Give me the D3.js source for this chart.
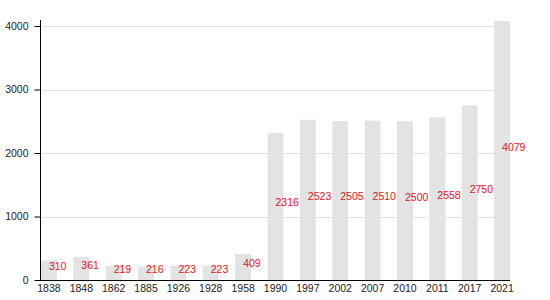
<!DOCTYPE html>
<html>
<head>
<meta charset="utf-8">
<script src="https://cdn.jsdelivr.net/npm/d3@7"></script>
<style>
  body { margin: 0; background: #fff; }
  svg { display: block; font-family: "Liberation Sans", Arial, sans-serif; }
</style>
</head>
<body>
<div id="chart"></div>
<script>
const years = ["1838", "1848", "1862", "1885", "1926", "1928", "1958", "1990", "1997", "2002", "2007", "2010", "2011", "2017", "2021"];
const population = [310, 361, 219, 216, 223, 223, 409, 2316, 2523, 2505, 2510, 2500, 2558, 2750, 4079];
const yTicks = [0, 1000, 2000, 3000, 4000];

const width = 550, height = 300;
const left = 41, right = 510, baseY = 280, topY = 21;

const svg = d3.select("#chart").append("svg")
  .attr("width", width)
  .attr("height", height);

const x = d3.scaleBand()
  .domain(years)
  .range([left, right])
  .paddingInner(0.51)
  .paddingOuter(0);

const y = d3.scaleLinear()
  .domain([0, d3.max(population)])
  .range([baseY, topY]);

// gridlines
svg.append("g")
  .selectAll("line")
  .data(yTicks.filter(d => d > 0))
  .enter().append("line")
  .attr("x1", left).attr("x2", right)
  .attr("y1", d => Math.round(y(d)) + 0.5)
  .attr("y2", d => Math.round(y(d)) + 0.5)
  .style("stroke", "#e3e3e3")
  .style("stroke-width", 1);

// bars
svg.append("g")
  .selectAll("rect")
  .data(population)
  .enter().append("rect")
  .attr("x", (d, i) => x(years[i]))
  .attr("y", d => y(d))
  .attr("width", x.bandwidth())
  .attr("height", d => baseY - y(d))
  .style("fill", "#e3e3e3");

// value labels
svg.append("g")
  .selectAll("text")
  .data(population)
  .enter().append("text")
  .attr("x", (d, i) => x(years[i]) + x.bandwidth() / 2)
  .attr("y", d => (y(d) + baseY) / 2)
  .style("font-size", "10.5px")
  .style("fill", "#e8141c")
  .text(d => d);

// y axis
const yAxis = svg.append("g")
  .attr("transform", `translate(${left - 0.5},0)`)
  .call(d3.axisLeft(y).tickValues(yTicks).tickFormat(d3.format("d"))
    .tickSize(6).tickSizeOuter(0).tickPadding(6));
yAxis.select(".domain").attr("d", `M0,${topY - 1}V${baseY}`).style("stroke", "#000");
yAxis.selectAll("text").style("font-size", "10.5px").style("fill", "#222").style("font-family", "inherit");

// x axis
const xAxis = svg.append("g")
  .attr("transform", `translate(0,${baseY + 0.5})`)
  .call(d3.axisBottom(x).tickSize(0).tickPadding(4));
xAxis.select(".domain").attr("d", `M${left - 1},0H${right}`).style("stroke", "#000");
xAxis.selectAll("text").style("font-size", "10.5px").style("fill", "#222").style("font-family", "inherit");
</script>
</body>
</html>
